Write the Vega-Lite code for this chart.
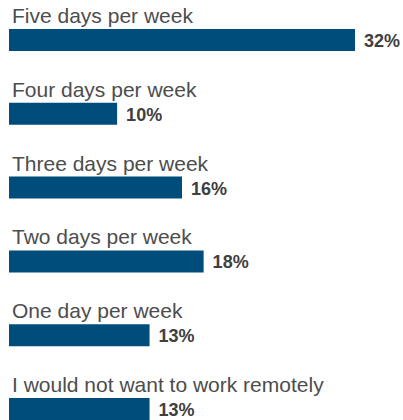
{
  "$schema": "https://vega.github.io/schema/vega-lite/v6.json",
  "width": 394,
  "height": 443,
  "autosize": "none",
  "padding": {"left": 9, "top": 3, "right": 0, "bottom": 0},
  "background": "white",
  "config": {"view": {"stroke": null}},
  "data": {"values": [
    {"label": "Five days per week", "value": 32, "display": "32%"},
    {"label": "Four days per week", "value": 10, "display": "10%"},
    {"label": "Three days per week", "value": 16, "display": "16%"},
    {"label": "Two days per week", "value": 18, "display": "18%"},
    {"label": "One day per week", "value": 13, "display": "13%"},
    {"label": "I would not want to work remotely", "value": 13, "display": "13%"}
  ]},
  "encoding": {
    "y": {"field": "label", "type": "nominal", "sort": null, "axis": null,
          "scale": {"paddingInner": 0.702, "paddingOuter": 0.351}}
  },
  "layer": [
    {
      "mark": {"type": "bar", "color": "#004C7B"},
      "encoding": {
        "x": {"field": "value", "type": "quantitative", "axis": null, "scale": {"domain": [0, 36.44], "nice": false, "zero": true}}
      }
    },
    {
      "mark": {"type": "text", "align": "left", "baseline": "alphabetic", "dx": 3, "dy": -17, "font": "Liberation Sans", "fontSize": 21, "color": "#4D4D4D"},
      "encoding": {
        "x": {"datum": 0, "type": "quantitative"},
        "text": {"field": "label"}
      }
    },
    {
      "mark": {"type": "text", "align": "left", "baseline": "alphabetic", "dx": 9, "dy": 7, "font": "Liberation Sans", "fontSize": 18, "fontWeight": "bold", "color": "#404040"},
      "encoding": {
        "x": {"field": "value", "type": "quantitative"},
        "text": {"field": "display"}
      }
    }
  ]
}
